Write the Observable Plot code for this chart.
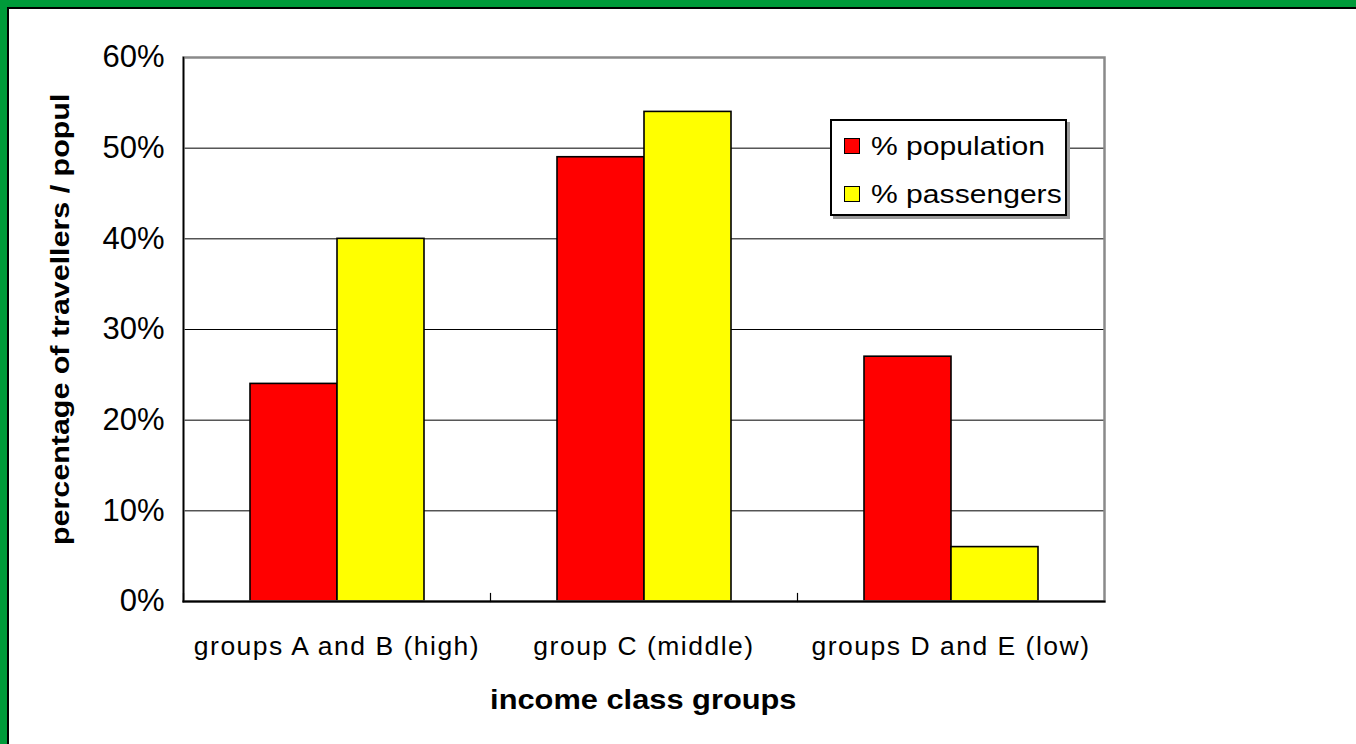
<!DOCTYPE html>
<html>
<head>
<meta charset="utf-8">
<script src="https://cdn.jsdelivr.net/npm/d3@7"></script>
<script src="https://cdn.jsdelivr.net/npm/@observablehq/plot@0.6"></script>
<style>
  html, body { margin: 0; padding: 0; background: #fff; overflow: hidden; }
  #wrap { position: relative; width: 1356px; height: 744px; background: #fff; overflow: hidden;
          font-family: "Liberation Sans", Arial, sans-serif; color: #000; }
  #chart { position: absolute; left: 0; top: 0; }
  .edge { position: absolute; z-index: 5; }
  #legend { position: absolute; left: 830px; top: 119px; width: 233px; height: 93px; background: #fff;
            border: 2px solid #000; box-shadow: 3px 3px 0 #9a9a9a; z-index: 3; }
  .lrow { position: absolute; left: 0; font-size: 25.5px; white-space: nowrap; line-height: 26px; }
  .sw { position: absolute; left: 12px; width: 14px; height: 14px; border: 1.5px solid #000; }
  .ltext { position: absolute; left: 39px; transform-origin: 0 50%; transform: scaleX(1.18); }
  #ytitle { position: absolute; left: 40px; top: 545px; width: 700px; height: 40px; line-height: 40px;
            transform-origin: 0 0; transform: rotate(-90deg) scaleX(1.17); white-space: nowrap;
            font-weight: bold; font-size: 26px; z-index: 2; }
  #xtitle { position: absolute; left: 182px; width: 922px; top: 684px; text-align: center;
            line-height: 32px; white-space: nowrap; }
  #xtitle span { display: inline-block; font-weight: bold; font-size: 28px; transform: scaleX(1.1); }
  g[aria-label="fx-axis tick label"] text { letter-spacing: 1.5px; }
</style>
</head>
<body>
<div id="wrap">
  <div id="chart"></div>
  <div class="edge" style="left:0;top:0;width:1356px;height:7px;background:#009a3a"></div>
  <div class="edge" style="left:0;top:0;width:7px;height:744px;background:#009a3a"></div>
  <div class="edge" style="left:7px;top:7px;width:1349px;height:2px;background:#000"></div>
  <div class="edge" style="left:7px;top:7px;width:2px;height:737px;background:#000"></div>
  <div id="legend"></div>
  <div id="ytitle"></div>
  <div id="xtitle"><span></span></div>
</div>
<script>
// ---- data ----
const categories = ["groups A and B (high)", "group C (middle)", "groups D and E (low)"];
const series = ["% population", "% passengers"];
const population = [0.24, 0.49, 0.27];
const passengers = [0.40, 0.54, 0.06];
const colors = ["#ff0000", "#ffff00"];
const yTicks = [0, 0.1, 0.2, 0.3, 0.4, 0.5, 0.6];
const yTitle = "percentage of travellers / popul";
const xTitle = "income class groups";

const seriesValues = [population, passengers];
const data = categories.flatMap((c, i) =>
  series.map((s, j) => ({category: c, series: s, value: seriesValues[j][i]}))
);

const chart = Plot.plot({
  width: 1356,
  height: 744,
  marginLeft: 182,
  marginRight: 252,
  marginTop: 57,
  marginBottom: 143,
  style: {fontFamily: "'Liberation Sans', Arial, sans-serif", background: "transparent", color: "#000", overflow: "visible"},
  fx: {domain: categories, padding: 0, label: null},
  x: {domain: series, paddingInner: 0, paddingOuter: 0.746, axis: null},
  y: {domain: [0, 0.6], label: null},
  color: {domain: series, range: colors},
  marks: [
    Plot.gridY(yTicks, {stroke: "#000", strokeOpacity: 1, strokeWidth: 1}),
    Plot.barY(data, {fx: "category", x: "series", y: "value", fill: "series", stroke: "#000", strokeWidth: 1.6}),
    Plot.frame({facet: "super", stroke: "#8a8a8a", strokeWidth: 2.5}),
    Plot.frame({facet: "super", anchor: "left", stroke: "#000", strokeWidth: 1.5}),
    Plot.frame({facet: "super", anchor: "bottom", stroke: "#000", strokeWidth: 2}),
    Plot.frame({anchor: "left", insetTop: 536, stroke: "#000", strokeWidth: 1.2}),
    Plot.axisY(yTicks, {tickSize: 0, tickPadding: 19, tickFormat: d3.format(".0%"), fontSize: 31, label: null}),
    Plot.axisFx({anchor: "bottom", tickSize: 0, tickPadding: 35, fontSize: 26.5, label: null})
  ]
});
document.getElementById("chart").appendChild(chart);

// legend
const legend = document.getElementById("legend");
series.forEach((s, i) => {
  const row = document.createElement("div");
  row.className = "lrow";
  row.style.top = (12 + i * 48) + "px";
  const sw = document.createElement("div");
  sw.className = "sw";
  sw.style.background = colors[i];
  sw.style.top = "5px";
  const t = document.createElement("div");
  t.className = "ltext";
  t.textContent = s;
  row.appendChild(sw);
  row.appendChild(t);
  legend.appendChild(row);
});
document.getElementById("ytitle").textContent = yTitle;
document.querySelector("#xtitle span").textContent = xTitle;
</script>
</body>
</html>
